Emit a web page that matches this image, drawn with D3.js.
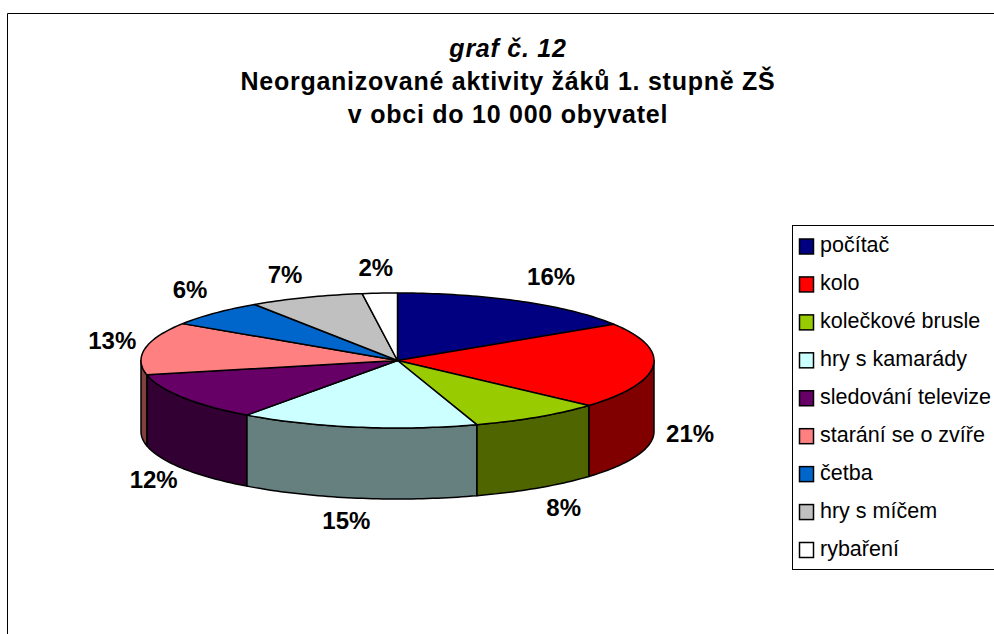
<!DOCTYPE html>
<html><head><meta charset="utf-8">
<script src="https://cdn.jsdelivr.net/npm/d3@7"></script>
<style>html,body{margin:0;padding:0;background:#fff}svg{display:block}text{font-family:"Liberation Sans",Arial,sans-serif;fill:#000}</style>
</head><body><svg id="c" width="994" height="634"></svg>
<script>
const categories = ["počítač","kolo","kolečkové brusle","hry s kamarády","sledování televize","starání se o zvíře","četba","hry s míčem","rybaření"];
const values = [16,20.6,8.4,15,11.6,12.6,6.4,7.2,2.2];
const topColors = ["#000080","#FF0000","#99CC00","#CCFFFF","#660066","#FF8080","#0066CC","#C0C0C0","#FFFFFF"];
const sideColors = ["#000040","#800000","#4F6600","#668080","#330033","#804040","#003366","#606060","#808080"];
const titleLines = ["graf č. 12","Neorganizované aktivity žáků 1. stupně ZŠ","v obci do 10 000 obyvatel"];
const labelOffsets = [[30,-24],[37,68],[26,91],[-11,94],[-29,83],[-33,-7],[-25,-23],[-21,-22],[-4,-25]];

const W=994,H=634, cx=397.5, cy=360.5, rx=256.5, ry=67.5, depth=71;
const svg=d3.select("#c");
const TAU=Math.PI*2;
const sx=d3.scaleLinear().domain([-1,1]).range([cx-rx,cx+rx]);
const sy=d3.scaleLinear().domain([-1,1]).range([cy-ry,cy+ry]);
const rim=(a,dy=0)=>[sx(Math.sin(a)),sy(-Math.cos(a))+dy];
const arcPts=(a0,a1,dy=0)=>{const n=Math.max(2,Math.ceil(Math.abs(a1-a0)/0.02));return d3.range(n+1).map(i=>rim(a0+(a1-a0)*i/n,dy));};
const line=d3.line();

// frame
svg.append("path").attr("d",line([[W,13.5],[7.5,13.5],[7.5,H]])).attr("fill","none").attr("stroke","#000").attr("stroke-width",1);

// title
const titleY=[56.5,90,123];
svg.selectAll("text.title").data(titleLines).join("text").attr("class","title")
  .attr("x",508).attr("y",(d,i)=>titleY[i]).attr("text-anchor","middle")
  .attr("font-size",25).attr("letter-spacing",0.75).attr("font-weight","bold").attr("font-style",(d,i)=>i===0?"italic":"normal")
  .text(d=>d);

const pie=d3.pie().sort(null).value(d=>d)(values);

// walls (front half only)
const g=svg.append("g").attr("stroke","#000").attr("stroke-width",1.5).attr("stroke-linejoin","round");
pie.forEach((p,i)=>{
  const a0=Math.max(p.startAngle,TAU/4), a1=Math.min(p.endAngle,TAU*3/4);
  if(a1<=a0) return;
  const pts=arcPts(a0,a1,0).concat(arcPts(a1,a0,depth));
  g.append("path").attr("d",line(pts)+"Z").attr("fill",sideColors[i]);
});
// top slices
pie.forEach((p,i)=>{
  const pts=[[cx,cy]].concat(arcPts(p.startAngle,p.endAngle));
  g.append("path").attr("d",line(pts)+"Z").attr("fill",topColors[i]);
});

// data labels (anchors from the unadjusted mid-angles stay on the rim)
svg.selectAll("text.lab").data(pie).join("text").attr("class","lab")
  .attr("x",(p,i)=>rim((p.startAngle+p.endAngle)/2)[0]+labelOffsets[i][0])
  .attr("y",(p,i)=>rim((p.startAngle+p.endAngle)/2)[1]+labelOffsets[i][1]+8)
  .attr("text-anchor","middle").attr("font-size",24).attr("font-weight","bold")
  .text(p=>d3.format(".0f")(p.value)+"%");

// legend
const legX=792.5,legTop=225.5,legBot=569.5;
svg.append("rect").attr("x",legX).attr("y",legTop).attr("width",W-legX+5).attr("height",legBot-legTop).attr("fill","#fff").attr("stroke","#000");
const ly=d3.scalePoint().domain(categories).range([246.5,550]);
const lg=svg.selectAll("g.l").data(categories).join("g").attr("class","l").attr("transform",d=>`translate(0,${ly(d)})`);
lg.append("rect").attr("x",799.5).attr("y",-7.5).attr("width",14).attr("height",15)
  .attr("fill",(d,i)=>topColors[i]).attr("stroke","#000").attr("stroke-width",1.5);
lg.append("text").attr("x",820).attr("y",5.5).attr("font-size",21.5).text(d=>d);
</script></body></html>
